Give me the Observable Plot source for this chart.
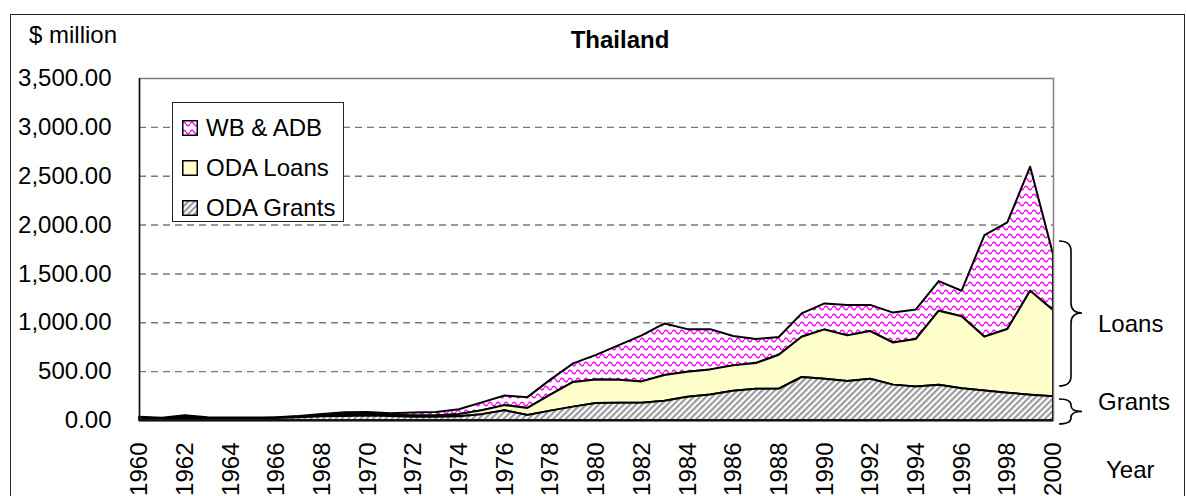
<!DOCTYPE html>
<html>
<head>
<meta charset="utf-8">
<script src="https://cdn.jsdelivr.net/npm/d3@7"></script>
<script src="https://cdn.jsdelivr.net/npm/@observablehq/plot@0.6"></script>
<style>
  html, body { margin: 0; padding: 0; background: #fff; overflow: hidden; }
  body { font-family: "Liberation Sans", Arial, sans-serif; }
  #wrap { position: relative; width: 1186px; height: 496px; overflow: hidden; }
  #border { position: absolute; left: 10px; top: 14px; width: 1175px; height: 700px;
            border: 1.5px solid #222; box-sizing: border-box; pointer-events: none; }
  .lbl { position: absolute; font-size: 24px; line-height: 1; color: #000; white-space: nowrap; }
  #legend { position: absolute; left: 172px; top: 102px; width: 172px; height: 120px;
            background: #fff; border: 1.2px solid #222; box-sizing: border-box; }
  #legend .row { position: absolute; left: 9px; display: flex; align-items: center; }
  #legend svg { display: block; }
  #legend span { font-size: 24px; line-height: 1; margin-left: 8px; }
</style>
</head>
<body>
<div id="wrap">
  <div id="chart"></div>
  <div id="border"></div>
  <div class="lbl" style="left:29px; top:23px;">$ million</div>
  <div class="lbl" style="left:620px; top:27.5px; transform:translateX(-50%); font-weight:bold;">Thailand</div>
  <div class="lbl" style="left:1098px; top:311.5px;">Loans</div>
  <div class="lbl" style="left:1098px; top:390px;">Grants</div>
  <div class="lbl" style="left:1106px; top:457.5px;">Year</div>
  <div id="legend"></div>
</div>
<script>
// ---- Data (US$ million) ----
const years = [1960,1961,1962,1963,1964,1965,1966,1967,1968,1969,
               1970,1971,1972,1973,1974,1975,1976,1977,1978,1979,
               1980,1981,1982,1983,1984,1985,1986,1987,1988,1989,
               1990,1991,1992,1993,1994,1995,1996,1997,1998,1999,2000];
const odaGrants = [12,8,15,10,10,12,20,28,38,42,
                   45,40,32,32,38,60,100,51,96,137,
                   175,177,177,198,239,262,300,320,320,440,
                   423,399,422,362,344,361,324,303,280,259,242];
const odaLoans  = [13,7,20,8,5,6,5,7,12,18,
                   17,10,13,16,22,40,52,73,164,253,
                   239,235,218,262,255,256,259,263,348,412,
                   504,467,488,431,485,758,737,550,651,1064,883];
const wbAdb     = [7,7,13,10,10,7,3,7,12,20,
                   20,18,33,34,50,80,98,110,153,190,
                   253,355,471,528,436,412,300,245,181,239,
                   266,310,268,306,303,303,262,1040,1091,1269,574];
const seriesNames = ["WB & ADB", "ODA Loans", "ODA Grants"];
const yTicks = [0,500,1000,1500,2000,2500,3000,3500];
const gridTicks = [500,1000,1500,2000,2500,3000];
const xTicks = [1960,1962,1964,1966,1968,1970,1972,1974,1976,1978,1980,
                1982,1984,1986,1988,1990,1992,1994,1996,1998,2000];

// stacked table built from the arrays
const rows = years.map((year, i) => {
  const g = odaGrants[i], l = g + odaLoans[i], w = l + wbAdb[i];
  return {year, base: 0, grants: g, loans: l, wb: w};
});

const fills = {"WB & ADB": "url(#wave)", "ODA Loans": "#FFFFCC", "ODA Grants": "url(#hatch)"};

const areaStyle = {x: "year", stroke: "#000", strokeWidth: 2, strokeLinejoin: "round"};

const plot = Plot.plot({
  width: 1186,
  height: 496,
  marginLeft: 139,
  marginRight: 133,
  marginTop: 78,
  marginBottom: 76,
  style: {fontFamily: "'Liberation Sans', Arial, sans-serif", fontSize: "24px", background: "transparent", color: "#000"},
  x: {domain: [1960, 2000], type: "linear"},
  y: {domain: [0, 3500]},
  marks: [
    Plot.gridY(gridTicks, {stroke: "#7a7a7a", strokeOpacity: 1, strokeWidth: 1.4, strokeDasharray: "7,5"}),
    Plot.areaY(rows, {...areaStyle, y1: "loans", y2: "wb", fill: fills["WB & ADB"]}),
    Plot.areaY(rows, {...areaStyle, y1: "grants", y2: "loans", fill: fills["ODA Loans"]}),
    Plot.areaY(rows, {...areaStyle, y1: "base", y2: "grants", fill: fills["ODA Grants"]}),
    Plot.frame({stroke: "#808080", strokeWidth: 1.5}),
    Plot.ruleX([1960], {stroke: "#111", strokeWidth: 1.5}),
    Plot.ruleY([0], {stroke: "#111", strokeWidth: 2}),
    Plot.axisY(yTicks, {tickSize: 0, tickPadding: 28, tickFormat: d3.format(",.2f"), label: null, fontSize: 24}),
    Plot.axisX(xTicks, {tickSize: 0, tickPadding: 22, tickRotate: -90, tickFormat: d => String(d), label: null, fontSize: 24})
  ]
});

// pattern definitions
const patterns = `
  <pattern id="wave" patternUnits="userSpaceOnUse" width="8" height="8">
    <rect width="8" height="8" fill="#fff"/>
    <path d="M0,4 C1.3,1.6 2.7,1.6 4,4 C5.3,6.4 6.7,6.4 8,4" fill="none" stroke="#FF00FF" stroke-width="1.4"/>
  </pattern>
  <pattern id="hatch" patternUnits="userSpaceOnUse" width="4.4" height="4.4" patternTransform="rotate(45)">
    <rect width="4.4" height="4.4" fill="#fff"/>
    <rect width="2.2" height="4.4" fill="#9b9b9b"/>
  </pattern>`;
d3.select(plot).insert("defs", ":first-child").html(patterns);

// braces (annotation)
const braces = d3.select(plot).append("g").attr("fill", "none").attr("stroke", "#000").attr("stroke-width", 1.6);
function brace(x0, xm, xt, y0, ytip, y1, r) {
  return `M${x0},${y0} Q${xm},${y0} ${xm},${y0 + r} L${xm},${ytip - r} Q${xm},${ytip} ${xt},${ytip} ` +
         `Q${xm},${ytip} ${xm},${ytip + r} L${xm},${y1 - r} Q${xm},${y1} ${x0},${y1}`;
}
braces.append("path").attr("d", brace(1059, 1071, 1082, 241, 313, 386, 10));
braces.append("path").attr("d", brace(1059, 1071, 1082, 399, 411.5, 424, 6));

document.getElementById("chart").appendChild(plot);

// legend
const legend = d3.select("#legend");
seriesNames.forEach((name, i) => {
  const row = legend.append("div").attr("class", "row").style("top", (13 + i * 40) + "px");
  const sw = row.append("svg").attr("width", 16).attr("height", 16);
  sw.append("rect").attr("x", 0.75).attr("y", 0.75).attr("width", 14.5).attr("height", 14.5)
    .attr("fill", fills[name]).attr("stroke", "#000").attr("stroke-width", 1.5);
  row.append("span").text(name);
});
</script>
</body>
</html>
